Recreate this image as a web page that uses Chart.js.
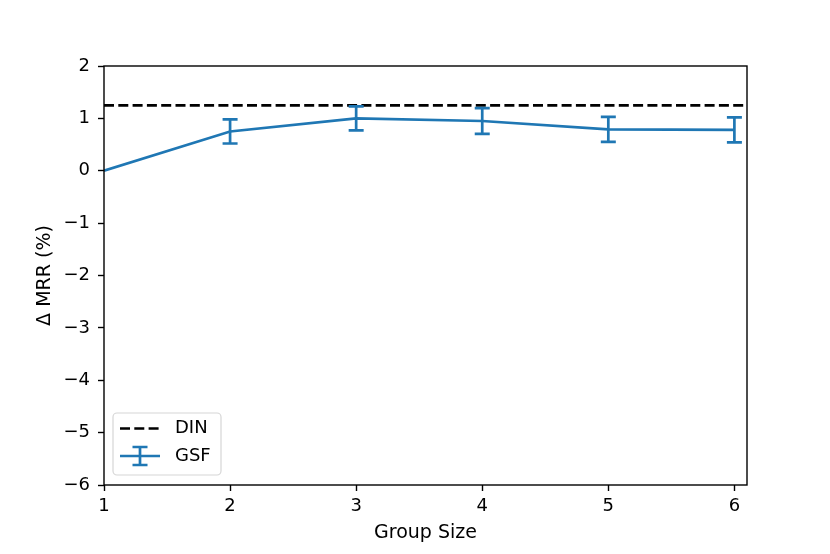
<!DOCTYPE html>
<html>
<head>
<meta charset="utf-8">
<script src="https://cdn.jsdelivr.net/npm/chart.js@4"></script>
<style>
  html, body { margin: 0; padding: 0; background: #fff; }
</style>
</head>
<body>
<canvas id="grafico" width="830" height="554"></canvas>
<script>
// data
const groupSizes = [1, 2, 3, 4, 5, 6];
const gsfMean = [0.0, 0.75, 1.0, 0.95, 0.79, 0.78];
const gsfErr = [0.0, 0.23, 0.23, 0.245, 0.24, 0.24];
const dinValue = 1.25;
const xRange = [1, 6.1];
const xTicks = [1, 2, 3, 4, 5, 6];
const yTicks = [-6, -5, -4, -3, -2, -1, 0, 1, 2];

const blue = '#1f77b4';
const font = { family: 'DejaVu Sans', size: 18 };
const titleFont = { family: 'DejaVu Sans', size: 19 };

// error bars drawn through the scales
const errorBars = {
  id: 'errorBars',
  afterDatasetsDraw(chart) {
    const { ctx, scales: { x, y } } = chart;
    ctx.save();
    ctx.strokeStyle = blue;
    ctx.lineWidth = 2.7;
    groupSizes.forEach((g, i) => {
      if (!gsfErr[i]) return;
      const px = x.getPixelForValue(g);
      const top = y.getPixelForValue(gsfMean[i] + gsfErr[i]);
      const bot = y.getPixelForValue(gsfMean[i] - gsfErr[i]);
      ctx.beginPath();
      ctx.moveTo(px, top); ctx.lineTo(px, bot);
      ctx.moveTo(px - 7.5, top); ctx.lineTo(px + 7.5, top);
      ctx.moveTo(px - 7.5, bot); ctx.lineTo(px + 7.5, bot);
      ctx.stroke();
    });
    ctx.restore();
  }
};

// frame + legend in the lower left like matplotlib
const frameAndLegend = {
  id: 'frameAndLegend',
  afterDraw(chart) {
    const { ctx, chartArea: a } = chart;
    ctx.save();
    ctx.strokeStyle = '#000';
    ctx.lineWidth = 1.4;
    ctx.strokeRect(a.left, a.top, a.right - a.left, a.bottom - a.top);

    // legend box
    const bx = a.left + 9, by = a.bottom - 72, bw = 108, bh = 62, r = 4;
    ctx.beginPath();
    ctx.roundRect(bx, by, bw, bh, r);
    ctx.fillStyle = 'rgba(255,255,255,0.8)';
    ctx.fill();
    ctx.strokeStyle = '#d6d6d6';
    ctx.lineWidth = 1.2;
    ctx.stroke();

    ctx.font = '18px "DejaVu Sans"';
    ctx.fillStyle = '#000';
    ctx.textBaseline = 'middle';
    ctx.textAlign = 'left';

    const ds = chart.data.datasets;
    // DIN
    let ly = by + 15.5;
    ctx.strokeStyle = '#000';
    ctx.lineWidth = 2.7;
    ctx.setLineDash([10, 4.3]);
    ctx.beginPath(); ctx.moveTo(bx + 7, ly); ctx.lineTo(bx + 47, ly); ctx.stroke();
    ctx.setLineDash([]);
    ctx.fillText(ds[1].label, bx + 62, ly);
    // GSF
    ly = by + 43;
    const cx = bx + 27;
    ctx.strokeStyle = blue;
    ctx.beginPath();
    ctx.moveTo(bx + 7, ly); ctx.lineTo(bx + 47, ly);
    ctx.moveTo(cx, ly - 9); ctx.lineTo(cx, ly + 9);
    ctx.moveTo(cx - 7.5, ly - 9); ctx.lineTo(cx + 7.5, ly - 9);
    ctx.moveTo(cx - 7.5, ly + 9); ctx.lineTo(cx + 7.5, ly + 9);
    ctx.stroke();
    ctx.fillText(ds[0].label, bx + 62, ly);
    ctx.restore();
  }
};

new Chart(document.getElementById('grafico'), {
  type: 'line',
  data: {
    datasets: [
      {
        label: 'GSF',
        data: groupSizes.map((g, i) => ({ x: g, y: gsfMean[i] })),
        borderColor: blue,
        borderWidth: 2.7,
        pointRadius: 0,
        fill: false,
        order: 0
      },
      {
        label: 'DIN',
        data: xRange.map(v => ({ x: v, y: dinValue })),
        borderColor: '#000',
        borderWidth: 2.7,
        borderDash: [10, 4.3],
        pointRadius: 0,
        fill: false,
        order: 1
      }
    ]
  },
  options: {
    responsive: false,
    animation: false,
    layout: { padding: { top: 66, right: 83, left: 0, bottom: 0 } },
    plugins: {
      legend: { display: false },
      tooltip: { enabled: false }
    },
    scales: {
      x: {
        type: 'linear',
        min: xRange[0],
        max: xRange[1],
        afterBuildTicks: s => { s.ticks = xTicks.map(v => ({ value: v })); },
        afterFit: s => { s.height = 69; },
        grid: { drawOnChartArea: false, tickLength: 6, tickColor: '#000', tickWidth: 1.4 },
        border: { display: false },
        ticks: { color: '#000', font: font, padding: 5, maxRotation: 0 },
        title: { display: true, text: 'Group Size', color: '#000', font: titleFont, padding: { top: 0, bottom: 10 } }
      },
      y: {
        min: yTicks[0],
        max: yTicks[yTicks.length - 1],
        afterBuildTicks: s => { s.ticks = yTicks.map(v => ({ value: v })); },
        afterFit: s => { s.width = 104; },
        grid: { drawOnChartArea: false, tickLength: 6, tickColor: '#000', tickWidth: 1.4 },
        border: { display: false },
        ticks: {
          color: '#000', font: font, padding: 8,
          callback: v => (v < 0 ? '\u2212' + Math.abs(v) : String(v))
        },
        title: { display: true, text: 'Δ MRR (%)', color: '#000', font: titleFont, padding: { top: 34, bottom: 0 } }
      }
    }
  },
  plugins: [errorBars, frameAndLegend]
});
</script>
</body>
</html>
